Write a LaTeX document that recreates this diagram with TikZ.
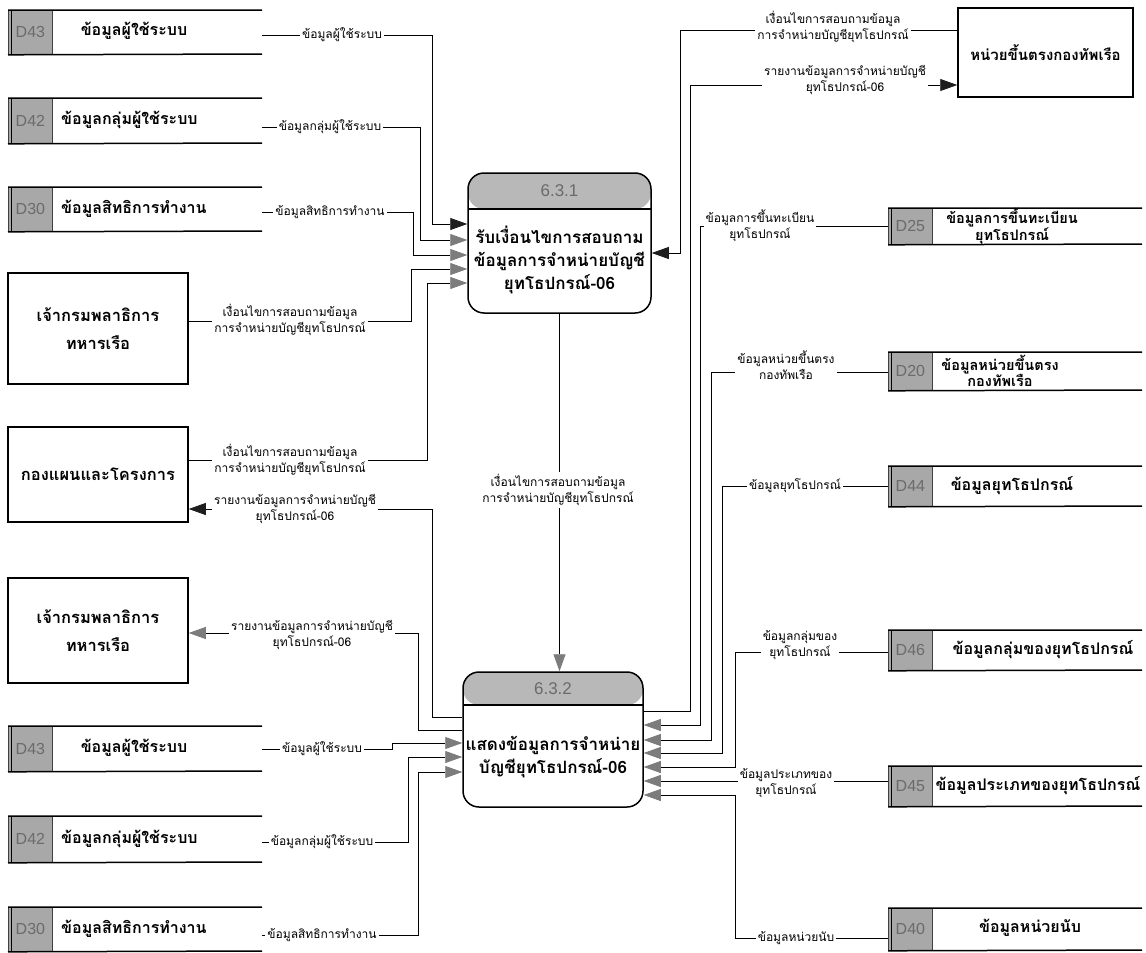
\documentclass[tikz,border=0pt]{standalone}
\usepackage{fontspec}
\newfontfamily\thai[Script=Thai]{Loma}
\setsansfont{Liberation Sans}
\usetikzlibrary{arrows.meta}
\definecolor{hdrgray}{HTML}{B8B8B8}
\definecolor{idgray}{HTML}{A8A8A8}
\definecolor{tipgray}{HTML}{7C7C7C}
\definecolor{tipblack}{HTML}{1E1E1E}
\definecolor{numgray}{HTML}{6A6A6A}
\tikzset{
  flow/.style={draw=black, line width=0.8pt},
  gtip/.style={flow, -{Triangle[length=17pt,width=12pt,color=tipgray]}},
  btip/.style={flow, -{Triangle[length=17pt,width=12pt,color=tipblack]}},
  lbl/.style={font=\thai\fontsize{12}{16}\selectfont, align=center, fill=white, inner sep=2pt},
  ent/.style={draw, line width=1.5pt, font=\thai\bfseries\fontsize{16.5}{28}\selectfont, align=center},
  idbox/.style={fill=idgray, draw=black!75, line width=0.8pt, minimum width=44pt, inner sep=0pt, font=\sffamily\fontsize{16}{16}\selectfont, text=black!58},
  storeline/.style={line width=1.5pt},
  stext/.style={font=\thai\bfseries\fontsize{16}{17}\selectfont, align=center, inner sep=0pt},
  stextb/.style={font=\thai\bfseries\fontsize{14.5}{16}\selectfont, align=center, inner sep=0pt},
  proc/.style={draw, line width=1.5pt, rounded corners=16pt, fill=white},
  hdr/.style={path picture={\fill[hdrgray] (path picture bounding box.north west) rectangle ([yshift=-#1]path picture bounding box.north east);
     \draw[line width=1.5pt] ([yshift=-#1]path picture bounding box.north west) -- ([yshift=-#1]path picture bounding box.north east);}},
  ptext/.style={font=\thai\bfseries\fontsize{17}{23}\selectfont, align=center},
  pnum/.style={font=\sffamily\fontsize{17}{17}\selectfont, text=numgray},
}
\newcommand\dstore[6]{%
  \node[idbox, anchor=north west, minimum height={(#5-#4)*1pt}] (#1) at (#3,#4) {#2};
  \draw[storeline] (#1.north west) -- (#6,#4) (#1.south west) -- (#6,#5);
  \draw[line width=0.8pt] ([xshift=3pt]#1.north west) -- ([xshift=3pt]#1.south west);
}
\begin{document}
\begin{tikzpicture}[x=1pt,y=-1pt]
\useasboundingbox (0,0) rectangle (1146,953);
\fill[white] (0,0) rectangle (1146,953);

% ---------- left stores (top)
\dstore{s43a}{D43}{8}{10}{54}{262}
\node[stext] (s43a-t) at (134,31) {ข้อมูลผู้ใช้ระบบ};
\dstore{s42a}{D42}{8}{98}{143}{262}
\node[stext, anchor=west] (s42a-t) at (61,120) {ข้อมูลกลุ่มผู้ใช้ระบบ};
\dstore{s30a}{D30}{8}{187}{231}{262}
\node[stext, anchor=west] (s30a-t) at (61,209) {ข้อมูลสิทธิการทำงาน};
\coordinate (s43a-e) at (262,35);
\coordinate (s42a-e) at (262,127);
\coordinate (s30a-e) at (262,212);

% ---------- entities left
\node[ent, minimum width=180pt, minimum height=111pt] (jk1) at (98,328.5) {เจ้ากรมพลาธิการ\\ทหารเรือ};
\node[ent, minimum width=180pt, minimum height=95pt] (kp) at (98,474.5) {กองแผนและโครงการ};
\node[ent, minimum width=180pt, minimum height=105pt] (jk2) at (98,630.5) {เจ้ากรมพลาธิการ\\ทหารเรือ};

% ---------- left stores (bottom)
\dstore{s43b}{D43}{8}{726}{771}{262}
\node[stext] (s43b-t) at (134,748) {ข้อมูลผู้ใช้ระบบ};
\dstore{s42b}{D42}{8}{816}{862}{262}
\node[stext, anchor=west] (s42b-t) at (61,839) {ข้อมูลกลุ่มผู้ใช้ระบบ};
\dstore{s30b}{D30}{8}{907}{951}{262}
\node[stext, anchor=west] (s30b-t) at (61,929) {ข้อมูลสิทธิการทำงาน};
\coordinate (s43b-e) at (262,749);
\coordinate (s42b-e) at (262,842);
\coordinate (s30b-e) at (262,935);

% ---------- right side
\node[ent, font=\thai\bfseries\fontsize{15}{20}\selectfont, minimum width=175pt, minimum height=89pt] (hn) at (1045.5,52.5) {หน่วยขึ้นตรงกองทัพเรือ};
\dstore{s25}{D25}{888}{208}{244}{1142}
\node[stextb] (s25-t) at (1012,226) {ข้อมูลการขึ้นทะเบียน\\ยุทโธปกรณ์};
\dstore{s20}{D20}{888}{352}{390}{1142}
\node[stextb] (s20-t) at (1000,371) {ข้อมูลหน่วยขึ้นตรง\\กองทัพเรือ};
\dstore{s44}{D44}{888}{466}{506}{1142}
\node[stext] (s44-t) at (1012,486) {ข้อมูลยุทโธปกรณ์};
\dstore{s46}{D46}{888}{630}{670}{1142}
\node[stext] (s46-t) at (1043,650) {ข้อมูลกลุ่มของยุทโธปกรณ์};
\dstore{s45}{D45}{888}{766}{806}{1142}
\node[stext] (s45-t) at (1038,786) {ข้อมูลประเภทของยุทโธปกรณ์};
\dstore{s40}{D40}{888}{908}{950}{1142}
\node[stext] (s40-t) at (1030,928) {ข้อมูลหน่วยนับ};

% ---------- processes
\node[proc, hdr=36pt, minimum width=183pt, minimum height=140pt] (p1) at (559.5,243) {};
\node[pnum] (p1-n) at (559.5,191) {6.3.1};
\node[ptext] (p1-t) at (559.5,260) {รับเงื่อนไขการสอบถาม\\ข้อมูลการจำหน่ายบัญชี\\ยุทโธปกรณ์-06};
\node[proc, hdr=33pt, minimum width=180pt, minimum height=135pt] (p2) at (553,739.5) {};
\node[pnum] (p2-n) at (553,689) {6.3.2};
\node[ptext] (p2-t) at (553,757) {แสดงข้อมูลการจำหน่าย\\บัญชียุทโธปกรณ์-06};

% ---------- connectors into 6.3.1
\draw[btip] (s43a-e) -- (432,35) -- (432,224) -- (p1.west |- 0,224);
\draw[gtip] (s42a-e) -- (420,127) -- (420,240) -- (p1.west |- 0,240);
\draw[gtip] (s30a-e) -- (413,212) -- (413,255) -- (p1.west |- 0,255);
\draw[gtip] (jk1.east |- 0,321) -- (411,321) -- (411,269) -- (p1.west |- 0,269);
\draw[gtip] (kp.east |- 0,460) -- (427,460) -- (427,283) -- (p1.west |- 0,283);
\draw[btip] (hn.west |- 0,30) -- (680,30) -- (680,253) -- (p1.east |- 0,253);

% ---------- 6.3.1 -> 6.3.2
\draw[gtip] (p1.south) -- (p1.south |- p2.north);

% ---------- outputs of 6.3.2
\draw[btip] (p2.west |- 0,717) -- (432,717) -- (432,509) -- (kp.east |- 0,509);
\draw[gtip] (p2.west |- 0,730) -- (418,730) -- (418,633) -- (jk2.east |- 0,633);
\draw[btip] (p2.east |- 0,711) -- (690,711) -- (690,85) -- (hn.west |- 0,85);

% ---------- inputs into 6.3.2 (left)
\draw[gtip] (s43b-e) -- (392,749) -- (392,743) -- (p2.west |- 0,743);
\draw[gtip] (s42b-e) -- (408,842) -- (408,757) -- (p2.west |- 0,757);
\draw[gtip] (s30b-e) -- (418,935) -- (418,772) -- (p2.west |- 0,772);

% ---------- inputs into 6.3.2 (right)
\draw[gtip] (s25.west |- 0,226) -- (700,226) -- (700,725) -- (p2.east |- 0,725);
\draw[gtip] (s20.west |- 0,372) -- (711,372) -- (711,740) -- (p2.east |- 0,740);
\draw[gtip] (s44.west |- 0,486) -- (722,486) -- (722,753) -- (p2.east |- 0,753);
\draw[gtip] (s46.west |- 0,652) -- (735,652) -- (735,767) -- (p2.east |- 0,767);
\draw[gtip] (s45.west |- 0,781) -- (p2.east |- 0,781);
\draw[gtip] (s40.west |- 0,938) -- (735,938) -- (735,795) -- (p2.east |- 0,795);

% ---------- labels
\node[lbl] (l1) at (342,35) {ข้อมูลผู้ใช้ระบบ};
\node[lbl] (l2) at (330,127) {ข้อมูลกลุ่มผู้ใช้ระบบ};
\node[lbl] (l3) at (330,212) {ข้อมูลสิทธิการทำงาน};
\node[lbl] (l4) at (290,320) {เงื่อนไขการสอบถามข้อมูล\\การจำหน่ายบัญชียุทโธปกรณ์};
\node[lbl] (l5) at (290,460) {เงื่อนไขการสอบถามข้อมูล\\การจำหน่ายบัญชียุทโธปกรณ์};
\node[lbl] (l6) at (295,509) {รายงานข้อมูลการจำหน่ายบัญชี\\ยุทโธปกรณ์-06};
\node[lbl] (l7) at (312,635) {รายงานข้อมูลการจำหน่ายบัญชี\\ยุทโธปกรณ์-06};
\node[lbl] (l8) at (322,749) {ข้อมูลผู้ใช้ระบบ};
\node[lbl] (l9) at (322,842) {ข้อมูลกลุ่มผู้ใช้ระบบ};
\node[lbl] (l10) at (322,935) {ข้อมูลสิทธิการทำงาน};
\node[lbl] (l11) at (558,490) {เงื่อนไขการสอบถามข้อมูล\\การจำหน่ายบัญชียุทโธปกรณ์};
\node[lbl] (l12) at (833,27) {เงื่อนไขการสอบถามข้อมูล\\การจำหน่ายบัญชียุทโธปกรณ์};
\node[lbl] (l13) at (845,80) {รายงานข้อมูลการจำหน่ายบัญชี\\ยุทโธปกรณ์-06};
\node[lbl] (l14) at (760,226) {ข้อมูลการขึ้นทะเบียน\\ยุทโธปกรณ์};
\node[lbl] (l15) at (786,365) {ข้อมูลหน่วยขึ้นตรง\\กองทัพเรือ};
\node[lbl] (l16) at (795,486) {ข้อมูลยุทโธปกรณ์};
\node[lbl] (l17) at (800,645) {ข้อมูลกลุ่มของ\\ยุทโธปกรณ์};
\node[lbl] (l18) at (786,783) {ข้อมูลประเภทของ\\ยุทโธปกรณ์};
\node[lbl] (l19) at (796,938) {ข้อมูลหน่วยนับ};
\end{tikzpicture}
\end{document}
